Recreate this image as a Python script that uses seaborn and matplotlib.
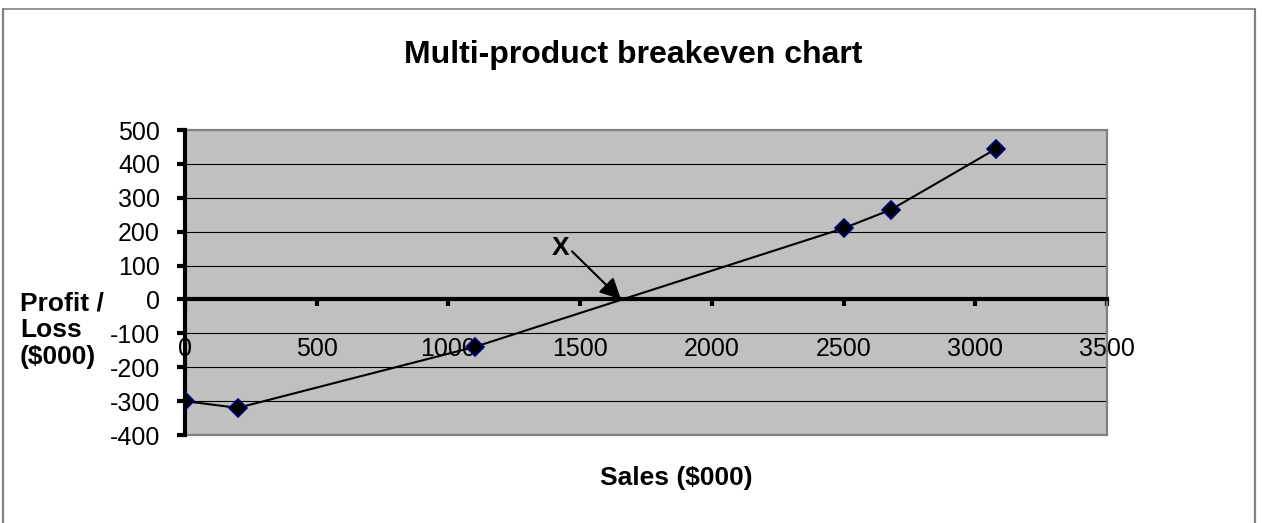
import matplotlib
matplotlib.use("Agg")
import matplotlib.pyplot as plt
import matplotlib.patches as mpatches
import seaborn as sns
import pandas as pd

# data ($000)
sales = [0, 200, 1100, 2500, 2680, 3080]
profit = [-300, -320, -140, 210, 265, 445]
x_ticks = [0, 500, 1000, 1500, 2000, 2500, 3000, 3500]
y_ticks = [-400, -300, -200, -100, 0, 100, 200, 300, 400, 500]
breakeven_sales = 1655

sns.set_style("white")
plt.rcParams["font.family"] = ["Liberation Sans", "DejaVu Sans"]
plt.rcParams["axes.unicode_minus"] = False
plt.rcParams["text.color"] = "black"
plt.rcParams["xtick.color"] = "black"
plt.rcParams["ytick.color"] = "black"

df = pd.DataFrame({"sales": sales, "profit": profit})

W, H = 1262, 523
fig = plt.figure(figsize=(W / 100, H / 100), dpi=100)
fig.patch.set_facecolor("white")

# outer chart border (open at the bottom)
fig.add_artist(plt.Line2D([3 / W, 3 / W], [0, 1 - 9 / H], color="#808080", lw=1.6))
fig.add_artist(plt.Line2D([3 / W, 1255 / W], [1 - 9 / H, 1 - 9 / H], color="#808080", lw=1.2))
fig.add_artist(plt.Line2D([1255 / W, 1255 / W], [0, 1 - 9 / H], color="#808080", lw=1.6))

ax = fig.add_axes([185 / W, 1 - 435 / H, (1107 - 185) / W, (435 - 130) / H])
ax.set_facecolor("#C0C0C0")

# horizontal gridlines
for v in y_ticks[1:-1]:
    ax.axhline(v, color="black", lw=0.8, zorder=1)

sns.lineplot(data=df, x="sales", y="profit", color="black", lw=1.5,
             marker="D", markersize=9, markerfacecolor="black",
             markeredgecolor="#000080", markeredgewidth=1.2, ax=ax, zorder=4)

ax.set_xlim(0, 3500)
ax.set_ylim(-400, 500)
ax.set_xticks(x_ticks)
ax.set_yticks(y_ticks)

# plot area border
ax.add_patch(mpatches.Rectangle((0, 0), 1, 1, transform=ax.transAxes, fill=False,
                                edgecolor="#808080", lw=1.6, zorder=2, clip_on=False))

for s in ["top", "right"]:
    ax.spines[s].set_visible(False)
ax.spines["left"].set_linewidth(3)
ax.spines["left"].set_color("black")
ax.spines["left"].set_zorder(3)
ax.spines["bottom"].set_position(("data", 0))
ax.spines["bottom"].set_linewidth(3)
ax.spines["bottom"].set_color("black")
ax.spines["bottom"].set_zorder(3)

ax.tick_params(axis="y", direction="out", length=6, width=3, pad=12,
               labelsize=18, left=True)
ax.tick_params(axis="x", direction="out", length=5, width=3, pad=22,
               labelsize=18, bottom=True)
ax.set_xlabel("")
ax.set_ylabel("")

# breakeven annotation
ax.text(1427, 152, "X", fontsize=19, fontweight="bold", ha="center", va="center", zorder=5)
ax.annotate("", xy=(breakeven_sales, 0), xytext=(1469, 142),
            arrowprops=dict(arrowstyle="-|>", color="black", lw=1.5,
                            mutation_scale=32, shrinkA=0, shrinkB=0),
            zorder=5)

fig.text(633 / W, 1 - 55 / H, "Multi-product breakeven chart", fontsize=23,
         fontweight="bold", ha="center", va="center")
fig.text(676 / W, 1 - 478 / H, "Sales ($000)", fontsize=19,
         fontweight="bold", ha="center", va="center")
fig.text(20 / W, 1 - 330 / H, "Profit /\nLoss\n($000)", fontsize=19,
         fontweight="bold", ha="left", va="center", linespacing=1.15)

fig.savefig("out.png", dpi=100)
